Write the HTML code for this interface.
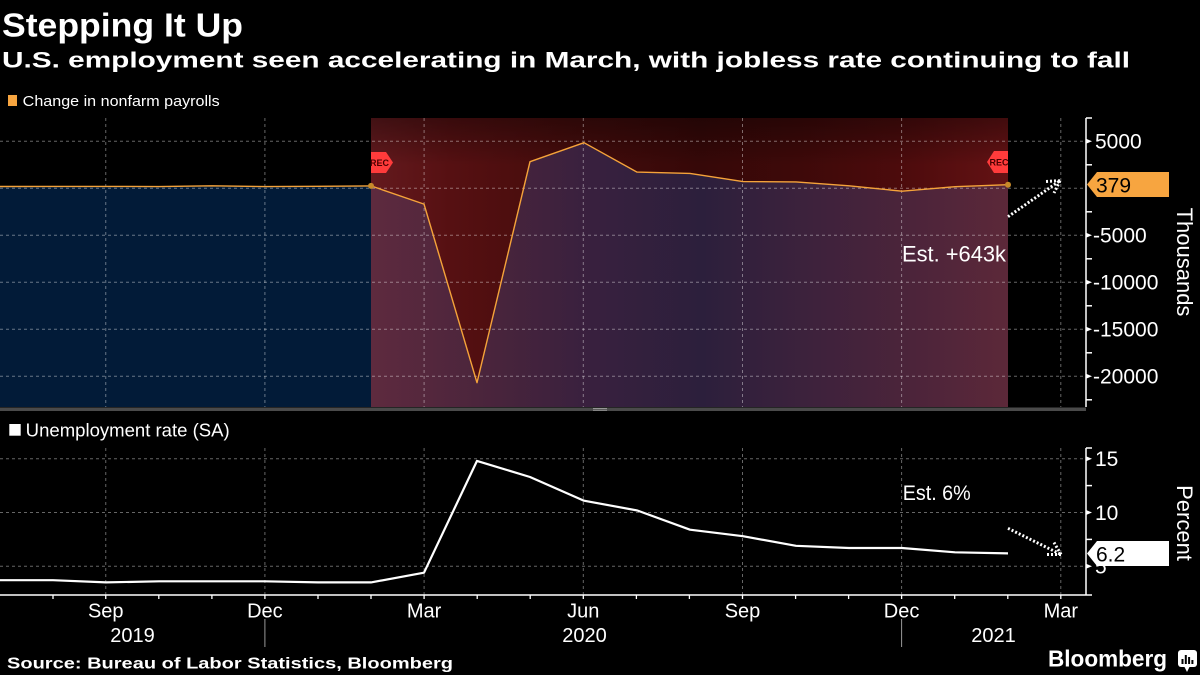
<!DOCTYPE html>
<html>
<head>
<meta charset="utf-8">
<style>
  html,body{margin:0;padding:0;background:#000;}
  body{width:1200px;height:675px;overflow:hidden;}
  svg{display:block;}
  text{font-family:"Liberation Sans", Arial, sans-serif;}
</style>
</head>
<body>
<svg width="1200" height="675" viewBox="0 0 1200 675" xmlns="http://www.w3.org/2000/svg">
  <defs>
    <linearGradient id="band" gradientUnits="userSpaceOnUse" x1="371" y1="0" x2="1008" y2="0">
      <stop offset="0" stop-color="#641a1e"/>
      <stop offset="0.124" stop-color="#561012"/>
      <stop offset="0.297" stop-color="#460c0c"/>
      <stop offset="0.516" stop-color="#360808"/>
      <stop offset="0.673" stop-color="#3e0909"/>
      <stop offset="0.83" stop-color="#4c0b0c"/>
      <stop offset="1" stop-color="#641214"/>
    </linearGradient>
    <linearGradient id="bandTop" gradientUnits="userSpaceOnUse" x1="0" y1="118" x2="0" y2="165">
      <stop offset="0" stop-color="#000" stop-opacity="0.35"/>
      <stop offset="1" stop-color="#000" stop-opacity="0"/>
    </linearGradient>
    <linearGradient id="area" gradientUnits="userSpaceOnUse" x1="371" y1="0" x2="1008" y2="0">
      <stop offset="0" stop-color="#5e2a3e"/>
      <stop offset="0.2" stop-color="#48243c"/>
      <stop offset="0.35" stop-color="#38203e"/>
      <stop offset="0.52" stop-color="#2c1f3c"/>
      <stop offset="0.7" stop-color="#3e223c"/>
      <stop offset="0.85" stop-color="#4c243a"/>
      <stop offset="1" stop-color="#5c2839"/>
    </linearGradient>
  </defs>

  <!-- Titles -->
  <text x="2" y="36.7" font-size="33" font-weight="bold" fill="#fff" textLength="241" lengthAdjust="spacingAndGlyphs">Stepping It Up</text>
  <text x="2" y="67.7" font-size="22" font-weight="bold" fill="#fff" textLength="1128" lengthAdjust="spacingAndGlyphs">U.S. employment seen accelerating in March, with jobless rate continuing to fall</text>

  <!-- Legend top -->
  <rect x="8" y="95" width="9" height="11" fill="#f7a540"/>
  <text x="22.7" y="106" font-size="15" fill="#fff" textLength="197" lengthAdjust="spacingAndGlyphs">Change in nonfarm payrolls</text>

  <!-- Top panel: navy area pre-recession -->
  <polygon fill="#021b38" points="0,186.5 53,186.4 106,186.4 159,186.6 212,185.8 265,186.6 318,186.3 371,185.9 371,407 0,407"/>
  <!-- recession band -->
  <rect x="371" y="118" width="637" height="289" fill="url(#band)"/>
  <rect x="371" y="118" width="637" height="47" fill="url(#bandTop)"/>
  <!-- area in recession -->
  <polygon fill="url(#area)" points="371,185.9 424,204.1 477,382.7 530,161.7 584,142.7 637,172.1 690,173.4 743,181.6 796,181.9 849,185.8 902,191.2 955,186.7 1008,184.7 1008,407 371,407"/>

  <!-- Top gridlines -->
  <g stroke="#ffffff" stroke-opacity="0.4" stroke-width="1" stroke-dasharray="3,3" fill="none">
    <line x1="0" y1="141.3" x2="1086" y2="141.3"/>
    <line x1="0" y1="188.3" x2="1086" y2="188.3"/>
    <line x1="0" y1="235.3" x2="1086" y2="235.3"/>
    <line x1="0" y1="282.3" x2="1086" y2="282.3"/>
    <line x1="0" y1="329.3" x2="1086" y2="329.3"/>
    <line x1="0" y1="376.3" x2="1086" y2="376.3"/>
    <line x1="105.75" y1="118" x2="105.75" y2="407"/>
    <line x1="264.9" y1="118" x2="264.9" y2="407"/>
    <line x1="424.1" y1="118" x2="424.1" y2="407"/>
    <line x1="583.3" y1="118" x2="583.3" y2="407"/>
    <line x1="742.5" y1="118" x2="742.5" y2="407"/>
    <line x1="901.6" y1="118" x2="901.6" y2="407"/>
    <line x1="1060.8" y1="118" x2="1060.8" y2="407"/>
  </g>

  <!-- Top line -->
  <polyline fill="none" stroke="#f5a33a" stroke-width="1.4" stroke-linejoin="round" points="0,186.5 53,186.4 106,186.4 159,186.6 212,185.8 265,186.6 318,186.3 371,185.9 424,204.1 477,382.7 530,161.7 584,142.7 637,172.1 690,173.4 743,181.6 796,181.9 849,185.8 902,191.2 955,186.7 1008,184.7"/>
  <circle cx="371" cy="185.9" r="3" fill="#c88a2a"/>
  <circle cx="1008" cy="184.7" r="3" fill="#c88a2a"/>

  <!-- REC markers -->
  <polygon fill="#ff3b3b" points="371,152 386,152 393,162.5 386,173 371,173"/>
  <text x="379.5" y="166" font-size="9" font-weight="bold" fill="#4a0000" text-anchor="middle">REC</text>
  <polygon fill="#ff3b3b" points="1008,151 994,151 987,162 994,173 1008,173"/>
  <text x="999" y="165.5" font-size="9" font-weight="bold" fill="#4a0000" text-anchor="middle">REC</text>

  <!-- Est +643k -->
  <text x="902" y="261.7" font-size="22" fill="#fff" textLength="104" lengthAdjust="spacingAndGlyphs">Est. +643k</text>

  <!-- Top dotted arrow -->
  <g stroke="#fff" stroke-width="3" stroke-dasharray="2,2" fill="none">
    <line x1="1008" y1="216.7" x2="1060" y2="180.7"/>
    <line x1="1060" y1="180.7" x2="1046" y2="181.5"/>
    <line x1="1060" y1="180.7" x2="1054" y2="193"/>
  </g>

  <!-- Separator -->
  <rect x="0" y="407.5" width="1086" height="3.5" fill="#4a4a4a"/>
  <line x1="593" y1="408.6" x2="607" y2="408.6" stroke="#aaa" stroke-width="0.8"/>
  <line x1="593" y1="410.2" x2="607" y2="410.2" stroke="#aaa" stroke-width="0.8"/>

  <!-- Top right axis -->
  <g stroke="#fff" stroke-width="1.5" fill="none">
    <line x1="1086" y1="118" x2="1086" y2="407"/>
    <line x1="1086" y1="118" x2="1092" y2="118"/>
    <line x1="1086" y1="164.8" x2="1092" y2="164.8"/>
    <line x1="1086" y1="211.8" x2="1092" y2="211.8"/>
    <line x1="1086" y1="258.8" x2="1092" y2="258.8"/>
    <line x1="1086" y1="305.8" x2="1092" y2="305.8"/>
    <line x1="1086" y1="352.8" x2="1092" y2="352.8"/>
    <line x1="1086" y1="399.8" x2="1092" y2="399.8"/>
  </g>
  <g fill="#fff">
    <polygon points="1086,138.8 1092,141.3 1086,143.8"/>
    <polygon points="1086,232.8 1092,235.3 1086,237.8"/>
    <polygon points="1086,279.8 1092,282.3 1086,284.8"/>
    <polygon points="1086,326.8 1092,329.3 1086,331.8"/>
    <polygon points="1086,373.8 1092,376.3 1086,378.8"/>
  </g>
  <g font-size="21" fill="#fff">
    <text x="1095" y="148.6">5000</text>
    <text x="1095" y="195.6">0</text>
    <text x="1093" y="242.6">-5000</text>
    <text x="1093" y="289.6">-10000</text>
    <text x="1093" y="336.6">-15000</text>
    <text x="1093" y="383.6">-20000</text>
  </g>
  <polygon fill="#f7a540" points="1087,184.5 1097,172 1169,172 1169,197 1097,197"/>
  <text x="1096" y="192.5" font-size="21" fill="#000">379</text>
  <text transform="translate(1177,262) rotate(90)" font-size="22" fill="#fff" text-anchor="middle">Thousands</text>

  <!-- Bottom legend -->
  <rect x="9.3" y="424" width="11.4" height="11.7" fill="#fff"/>
  <text x="25.7" y="436.7" font-size="18" fill="#fff" textLength="204" lengthAdjust="spacingAndGlyphs">Unemployment rate (SA)</text>

  <!-- Bottom gridlines -->
  <g stroke="#ffffff" stroke-opacity="0.4" stroke-width="1" stroke-dasharray="3,3" fill="none">
    <line x1="0" y1="458.75" x2="1086" y2="458.75"/>
    <line x1="0" y1="512.5" x2="1086" y2="512.5"/>
    <line x1="0" y1="566.25" x2="1086" y2="566.25"/>
    <line x1="105.75" y1="448" x2="105.75" y2="595"/>
    <line x1="264.9" y1="448" x2="264.9" y2="595"/>
    <line x1="424.1" y1="448" x2="424.1" y2="595"/>
    <line x1="583.3" y1="448" x2="583.3" y2="595"/>
    <line x1="742.5" y1="448" x2="742.5" y2="595"/>
    <line x1="901.6" y1="448" x2="901.6" y2="595"/>
    <line x1="1060.8" y1="448" x2="1060.8" y2="595"/>
  </g>

  <!-- Bottom line -->
  <polyline fill="none" stroke="#fff" stroke-width="2.2" stroke-linejoin="round" points="0,580.2 53,580.2 106,582.4 159,581.3 212,581.3 265,581.3 318,582.4 371,582.4 424,572.7 477,460.9 530,477 584,500.7 637,510.4 690,529.7 743,536.2 796,545.8 849,548 902,548 955,552.3 1008,553.4"/>

  <!-- Est 6% -->
  <text x="902.7" y="500" font-size="21" fill="#fff" textLength="68" lengthAdjust="spacingAndGlyphs">Est. 6%</text>

  <!-- Bottom dotted arrow -->
  <g stroke="#fff" stroke-width="3" stroke-dasharray="2,2" fill="none">
    <line x1="1008" y1="528.3" x2="1061" y2="554.5"/>
    <line x1="1061" y1="554.5" x2="1047" y2="554.5"/>
    <line x1="1061" y1="554.5" x2="1054" y2="542.5"/>
  </g>

  <!-- Bottom axes -->
  <g stroke="#fff" stroke-width="1.5" fill="none">
    <line x1="0" y1="595" x2="1086" y2="595"/>
    <line x1="1086" y1="448" x2="1086" y2="595"/>
    <line x1="1086" y1="448" x2="1092" y2="448"/>
    <line x1="1086" y1="485.6" x2="1092" y2="485.6"/>
    <line x1="1086" y1="539.4" x2="1092" y2="539.4"/>
    <line x1="1086" y1="595" x2="1092" y2="595"/>
  </g>
  <g fill="#fff">
    <polygon points="1086,456.25 1092,458.75 1086,461.25"/>
    <polygon points="1086,510 1092,512.5 1086,515"/>
    <polygon points="1086,563.75 1092,566.25 1086,568.75"/>
  </g>
  <g stroke="#fff" stroke-width="1.3">
    <line x1="53" y1="595" x2="53" y2="599"/>
    <line x1="105.75" y1="595" x2="105.75" y2="599"/>
    <line x1="158.8" y1="595" x2="158.8" y2="599"/>
    <line x1="211.9" y1="595" x2="211.9" y2="599"/>
    <line x1="264.9" y1="595" x2="264.9" y2="599"/>
    <line x1="318" y1="595" x2="318" y2="599"/>
    <line x1="371" y1="595" x2="371" y2="599"/>
    <line x1="424.1" y1="595" x2="424.1" y2="599"/>
    <line x1="477.2" y1="595" x2="477.2" y2="599"/>
    <line x1="530.2" y1="595" x2="530.2" y2="599"/>
    <line x1="583.3" y1="595" x2="583.3" y2="599"/>
    <line x1="636.4" y1="595" x2="636.4" y2="599"/>
    <line x1="689.4" y1="595" x2="689.4" y2="599"/>
    <line x1="742.5" y1="595" x2="742.5" y2="599"/>
    <line x1="795.6" y1="595" x2="795.6" y2="599"/>
    <line x1="848.6" y1="595" x2="848.6" y2="599"/>
    <line x1="901.6" y1="595" x2="901.6" y2="599"/>
    <line x1="954.7" y1="595" x2="954.7" y2="599"/>
    <line x1="1007.8" y1="595" x2="1007.8" y2="599"/>
    <line x1="1060.8" y1="595" x2="1060.8" y2="599"/>
  </g>
  <g font-size="21" fill="#fff">
    <text x="1095" y="466">15</text>
    <text x="1095" y="519.8">10</text>
    <text x="1095" y="573.5">5</text>
  </g>
  <polygon fill="#fff" points="1087,553.5 1097,541 1169,541 1169,566 1097,566"/>
  <text x="1096" y="561.5" font-size="21" fill="#000">6.2</text>
  <text transform="translate(1177,523) rotate(90)" font-size="22" fill="#fff" text-anchor="middle">Percent</text>

  <!-- X labels -->
  <g font-size="20" fill="#fff" text-anchor="middle">
    <text x="105.75" y="617.3">Sep</text>
    <text x="264.9" y="617.3">Dec</text>
    <text x="424.1" y="617.3">Mar</text>
    <text x="583.3" y="617.3">Jun</text>
    <text x="742.5" y="617.3">Sep</text>
    <text x="901.6" y="617.3">Dec</text>
    <text x="1060.8" y="617.3">Mar</text>
    <text x="132.5" y="642">2019</text>
    <text x="584.5" y="642">2020</text>
    <text x="993.5" y="642">2021</text>
  </g>
  <g stroke="#999" stroke-width="1">
    <line x1="264.9" y1="619" x2="264.9" y2="647"/>
    <line x1="901.6" y1="619" x2="901.6" y2="647"/>
  </g>

  <!-- Footer -->
  <text x="7" y="668.3" font-size="16" font-weight="bold" fill="#fff" textLength="446" lengthAdjust="spacingAndGlyphs">Source: Bureau of Labor Statistics, Bloomberg</text>
  <text x="1048" y="666.7" font-size="23" font-weight="bold" fill="#fff" textLength="119" lengthAdjust="spacingAndGlyphs">Bloomberg</text>
  <rect x="1178" y="650" width="19" height="17" rx="3" fill="#fff"/>
  <polygon fill="#fff" points="1184,666 1187,672 1190,666"/>
  <g fill="#000">
    <rect x="1181.5" y="659" width="2" height="5"/>
    <rect x="1184.8" y="655" width="2" height="9"/>
    <rect x="1188.1" y="657" width="2" height="7"/>
    <rect x="1191.4" y="660" width="2" height="4"/>
  </g>
</svg>
</body>
</html>
